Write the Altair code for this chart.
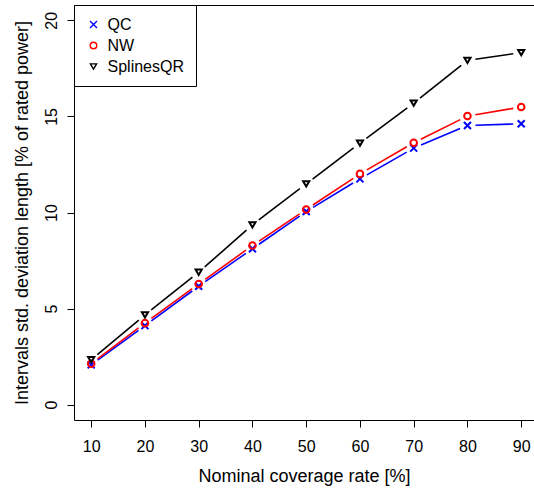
import altair as alt
import pandas as pd
import numpy as np

# ---- data ----
coverage = [10, 20, 30, 40, 50, 60, 70, 80, 90]
qc = [2.07, 4.11, 6.16, 8.11, 10.05, 11.75, 13.35, 14.53, 14.62]
nw = [2.13, 4.24, 6.28, 8.28, 10.16, 12.01, 13.63, 15.02, 15.49]
splines = [2.34, 4.67, 6.89, 9.36, 11.49, 13.61, 15.69, 17.92, 18.32]

series_names = ["QC", "NW", "SplinesQR"]
series_colors = ["#0000FF", "#FF0000", "#000000"]
series_shapes = ["M-1,-1L1,1M-1,1L1,-1", "circle", "triangle-down"]
series_sizes = [49, 38, 95]

x_ticks = [10, 20, 30, 40, 50, 60, 70, 80, 90]
y_ticks = [0, 5, 10, 15, 20]

X_DOMAIN = [6.8, 92.38]
Y_DOMAIN = [-0.8, 20.8]
W, H = 460, 415
GAP = 8  # pixel gap around points (R type="b")

FONT = "Liberation Sans"

points = []
segs = []
for name, vals in zip(series_names, [qc, nw, splines]):
    for xv, yv in zip(coverage, vals):
        points.append({"series": name, "x": xv, "y": yv})
    for i in range(len(coverage) - 1):
        x0, x1 = coverage[i], coverage[i + 1]
        y0, y1 = vals[i], vals[i + 1]
        dxp = (x1 - x0) * W / (X_DOMAIN[1] - X_DOMAIN[0])
        dyp = (y1 - y0) * H / (Y_DOMAIN[1] - Y_DOMAIN[0])
        f = GAP / float(np.hypot(dxp, dyp))
        segs.append({
            "series": name,
            "xa": x0 + f * (x1 - x0), "xb": x1 - f * (x1 - x0),
            "ya": y0 + f * (y1 - y0), "yb": y1 - f * (y1 - y0),
        })

pts_df = pd.DataFrame(points)
seg_df = pd.DataFrame(segs)

xscale = alt.Scale(domain=X_DOMAIN, nice=False, zero=False)
yscale = alt.Scale(domain=Y_DOMAIN, nice=False, zero=False)
cscale = alt.Scale(domain=series_names, range=series_colors)
sscale = alt.Scale(domain=series_names, range=series_shapes)
zscale = alt.Scale(domain=series_names, range=series_sizes)

legend = alt.Legend(
    title=None, orient="none", legendX=0, legendY=0,
    padding=11.5, strokeColor="black", fillColor="white", cornerRadius=0,
    labelFontSize=16, labelFont=FONT, labelColor="black",
    symbolStrokeWidth=1.4, rowPadding=5, labelOffset=6,
)

xaxis = alt.Axis(
    values=x_ticks, title="Nominal coverage rate [%]", grid=False, domain=False,
    tickSize=7, tickColor="black", labelFontSize=16, titleFontSize=18,
    labelFont=FONT, titleFont=FONT, titleFontWeight="normal",
    labelColor="black", titleColor="black", labelPadding=11, titlePadding=13,
)
yaxis = alt.Axis(
    values=y_ticks, title="Intervals std. deviation length [% of rated power]",
    grid=False, domain=False, tickSize=7, tickColor="black",
    labelFontSize=16, titleFontSize=18, labelFont=FONT, titleFont=FONT,
    titleFontWeight="normal", labelColor="black", titleColor="black",
    labelAngle=270, labelAlign="center", labelBaseline="bottom",
    labelPadding=8, titlePadding=12,
)

rules = alt.Chart(seg_df).mark_rule(strokeWidth=1.6).encode(
    x=alt.X("xa:Q", scale=xscale, axis=xaxis),
    x2="xb:Q",
    y=alt.Y("ya:Q", scale=yscale, axis=yaxis),
    y2="yb:Q",
    color=alt.Color("series:N", scale=cscale, legend=legend),
)

marks = alt.Chart(pts_df).mark_point(filled=False, strokeWidth=2, opacity=1).encode(
    x=alt.X("x:Q", scale=xscale, axis=xaxis),
    y=alt.Y("y:Q", scale=yscale, axis=yaxis),
    color=alt.Color("series:N", scale=cscale, legend=legend),
    shape=alt.Shape("series:N", scale=sscale, legend=legend),
    size=alt.Size("series:N", scale=zscale, legend=legend),
)

chart = alt.layer(rules, marks).properties(
    width=W, height=H,
    autosize=alt.AutoSizeParams(type="none"),
    padding={"left": 74, "top": 5, "right": 0, "bottom": 493 - 5 - H},
    background="white",
).configure_view(stroke="black", strokeWidth=1)

chart.save("out.html", embed_options={"renderer": "svg", "actions": False})
